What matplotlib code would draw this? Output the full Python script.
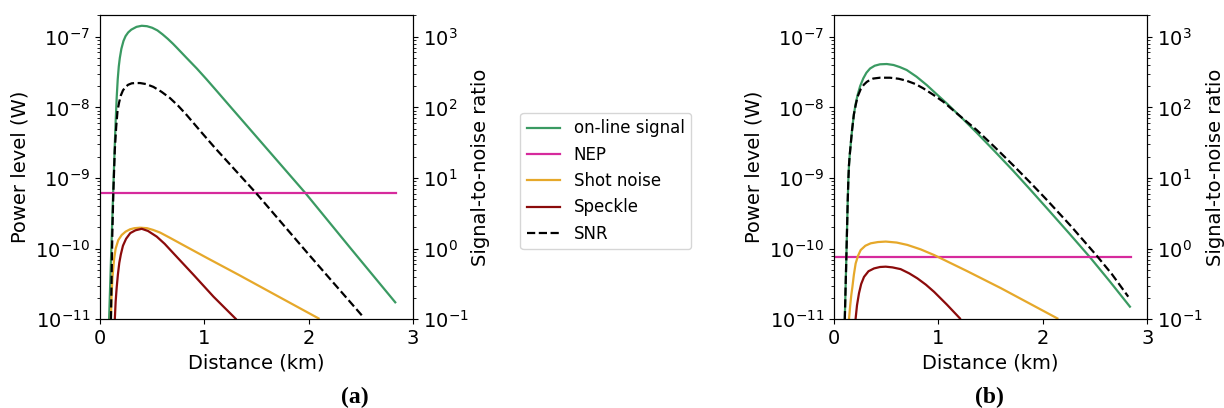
import numpy as np
import matplotlib
matplotlib.use("Agg")
import matplotlib.pyplot as plt

# Farben der Kurven
c_sig = '#3a9a62'
c_nep = '#d62a9c'
c_shot = '#e6a82a'
c_speck = '#8b0b0b'

# ---- (a) linkes Diagramm ----
a_sig_km = [0.087, 0.100, 0.112, 0.124, 0.134, 0.142, 0.150, 0.16, 0.17, 0.18, 0.19, 0.205,
            0.225, 0.245, 0.27, 0.30, 0.35, 0.40, 0.45, 0.50, 0.55, 0.60, 0.65, 0.70, 0.736,
            0.83, 0.928, 1.02, 1.12, 1.25, 1.408, 1.967, 2.4, 2.83]
a_sig_w = [1.0e-11, 3.98e-11, 1.41e-10, 5.0e-10, 1.38e-9, 3.02e-9, 6.31e-9, 1.38e-8, 2.51e-8,
           3.8e-8, 5.01e-8, 6.76e-8, 8.71e-8, 1.02e-7, 1.15e-7, 1.26e-7, 1.38e-7, 1.43e-7,
           1.41e-7, 1.34e-7, 1.23e-7, 1.08e-7, 9.33e-8, 7.94e-8, 7.0e-8, 5.01e-8, 3.55e-8,
           2.51e-8, 1.70e-8, 1.02e-8, 5.5e-9, 6.17e-10, 1.02e-10, 1.74e-11]
a_nep = 6.1e-10
a_nep_km = [0.0, 2.84]
a_shot_km = [0.104, 0.112, 0.12, 0.135, 0.15, 0.175, 0.208, 0.245, 0.288, 0.33, 0.384, 0.45,
             0.51, 0.576, 0.68, 0.80, 1.024, 1.328, 1.7, 2.095]
a_shot_w = [1.0e-11, 2.4e-11, 3.98e-11, 7.08e-11, 1.0e-10, 1.32e-10, 1.56e-10, 1.74e-10,
            1.88e-10, 1.95e-10, 1.98e-10, 1.95e-10, 1.84e-10, 1.69e-10, 1.40e-10, 1.12e-10,
            7.41e-11, 4.27e-11, 2.14e-11, 1.03e-11]
a_speck_km = [0.142, 0.15, 0.16, 0.172, 0.185, 0.20, 0.22, 0.25, 0.29, 0.34, 0.40, 0.46,
              0.544, 0.62, 0.704, 0.896, 1.088, 1.30]
a_speck_w = [1.0e-11, 1.78e-11, 2.82e-11, 4.37e-11, 6.31e-11, 8.32e-11, 1.10e-10, 1.38e-10,
             1.66e-10, 1.82e-10, 1.91e-10, 1.78e-10, 1.48e-10, 1.17e-10, 8.6e-11, 4.27e-11,
             2.09e-11, 1.02e-11]
a_snr_km = [0.105, 0.112, 0.118, 0.128, 0.142, 0.155, 0.168, 0.183, 0.20, 0.22, 0.245, 0.27,
            0.304, 0.34, 0.384, 0.44, 0.512, 0.59, 0.672, 0.75, 0.832, 0.976, 1.10, 1.5, 2.0,
            2.53]
a_snr = [0.1, 0.45, 1.58, 6.31, 25.1, 52.5, 89.1, 117, 148, 174, 195, 209, 219, 221, 221, 214,
         195, 166, 135, 105, 77.6, 43.7, 26.9, 6.03, 0.83, 0.105]

# ---- (b) rechtes Diagramm ----
b_sig_km = [0.103, 0.115, 0.125, 0.131, 0.137, 0.143, 0.15, 0.16, 0.172, 0.19, 0.207, 0.225,
            0.25, 0.28, 0.31, 0.345, 0.39, 0.44, 0.505, 0.57, 0.63, 0.696, 0.79, 0.888, 0.98,
            1.079, 1.22, 1.366, 1.54, 1.717, 1.88, 2.037, 2.25, 2.451, 2.64, 2.834]
b_sig_w = [1.0e-11, 5.01e-11, 2.0e-10, 4.68e-10, 9.33e-10, 1.51e-9, 2.09e-9, 3.02e-9, 4.68e-9,
           7.94e-9, 1.12e-8, 1.48e-8, 2.0e-8, 2.57e-8, 3.09e-8, 3.55e-8, 3.89e-8, 4.07e-8,
           4.11e-8, 3.98e-8, 3.72e-8, 3.38e-8, 2.72e-8, 2.07e-8, 1.55e-8, 1.14e-8, 7.19e-9,
           4.39e-9, 2.38e-9, 1.26e-9, 6.84e-10, 3.76e-10, 1.66e-10, 7.57e-11, 3.46e-11, 1.51e-11]
b_nep = 7.7e-11
b_nep_km = [0.0, 2.84]
b_shot_km = [0.144, 0.155, 0.166, 0.176, 0.19, 0.207, 0.23, 0.255, 0.30, 0.351, 0.42, 0.495,
             0.60, 0.702, 0.83, 0.958, 1.277, 1.6, 2.139]
b_shot_w = [1.03e-11, 1.58e-11, 2.24e-11, 2.88e-11, 4.27e-11, 6.17e-11, 7.94e-11, 9.55e-11,
            1.10e-10, 1.19e-10, 1.24e-10, 1.26e-10, 1.22e-10, 1.13e-10, 9.77e-11, 8.13e-11,
            4.79e-11, 2.75e-11, 1.03e-11]
b_speck_km = [0.207, 0.22, 0.239, 0.26, 0.287, 0.33, 0.383, 0.44, 0.495, 0.56, 0.638, 0.72,
              0.798, 0.88, 0.958, 1.08, 1.206]
b_speck_w = [1.03e-11, 1.58e-11, 2.34e-11, 3.16e-11, 3.98e-11, 4.79e-11, 5.25e-11, 5.5e-11,
             5.56e-11, 5.43e-11, 5.13e-11, 4.47e-11, 3.8e-11, 3.09e-11, 2.45e-11, 1.62e-11,
             1.03e-11]
b_snr_km = [0.103, 0.115, 0.125, 0.131, 0.137, 0.143, 0.15, 0.16, 0.172, 0.19, 0.207, 0.225,
            0.256, 0.285, 0.313, 0.345, 0.376, 0.44, 0.536, 0.62, 0.696, 0.78, 0.855, 0.95,
            1.047, 1.175, 1.366, 1.54, 1.717, 1.88, 2.037, 2.27, 2.515, 2.66, 2.818]
b_snr = [0.1, 0.5, 2.0, 4.68, 9.33, 15.1, 20.9, 30.2, 46.8, 79.4, 107, 141, 182, 209, 229,
         245, 256, 263, 263, 254, 238, 214, 186, 151, 120, 82.4, 47.9, 27.3, 15.1, 8.61, 4.92,
         2.08, 0.798, 0.438, 0.209]

labels = ['on-line signal', 'NEP', 'Shot noise', 'Speckle', 'SNR']

fig = plt.figure(figsize=(12.24, 4.08), dpi=100)


def panel(rect, sig, nep, nep_km, shot, speck, snr):
    ax = fig.add_axes(rect)
    l1, = ax.plot(sig[0], sig[1], color=c_sig, lw=1.6)
    l2, = ax.plot(nep_km, [nep, nep], color=c_nep, lw=1.6)
    l3, = ax.plot(shot[0], shot[1], color=c_shot, lw=1.6)
    l4, = ax.plot(speck[0], speck[1], color=c_speck, lw=1.6)
    ax.set_yscale('log')
    ax.set_xlim(0, 3)
    ax.set_ylim(1e-11, 2.03e-7)
    ax.set_xticks([0, 1, 2, 3])
    ax.set_xlabel('Distance (km)', fontsize=14)
    ax.set_ylabel('Power level (W)', fontsize=14)
    ax.tick_params(labelsize=14)
    ax2 = ax.twinx()
    l5, = ax2.plot(snr[0], snr[1], color='black', ls='--', lw=1.6)
    ax2.set_yscale('log')
    ax2.set_ylim(0.1, 2.03e3)
    ax2.set_ylabel('Signal-to-noise ratio', fontsize=14, labelpad=2)
    ax2.tick_params(labelsize=14)
    return [l1, l2, l3, l4, l5]


handles = panel([0.0817, 0.2174, 0.2557, 0.7458], (a_sig_km, a_sig_w), a_nep, a_nep_km,
                (a_shot_km, a_shot_w), (a_speck_km, a_speck_w), (a_snr_km, a_snr))
panel([0.6814, 0.2174, 0.2559, 0.7458], (b_sig_km, b_sig_w), b_nep, b_nep_km,
      (b_shot_km, b_shot_w), (b_speck_km, b_speck_w), (b_snr_km, b_snr))

fig.legend(handles, labels, loc='center', bbox_to_anchor=(0.495, 0.556), fontsize=12)

fig.text(0.290, 0.027, '(a)', ha='center', va='center', fontsize=17, fontweight='bold',
         family='Liberation Serif')
fig.text(0.808, 0.027, '(b)', ha='center', va='center', fontsize=17, fontweight='bold',
         family='Liberation Serif')

fig.savefig('out.png', dpi=100)
